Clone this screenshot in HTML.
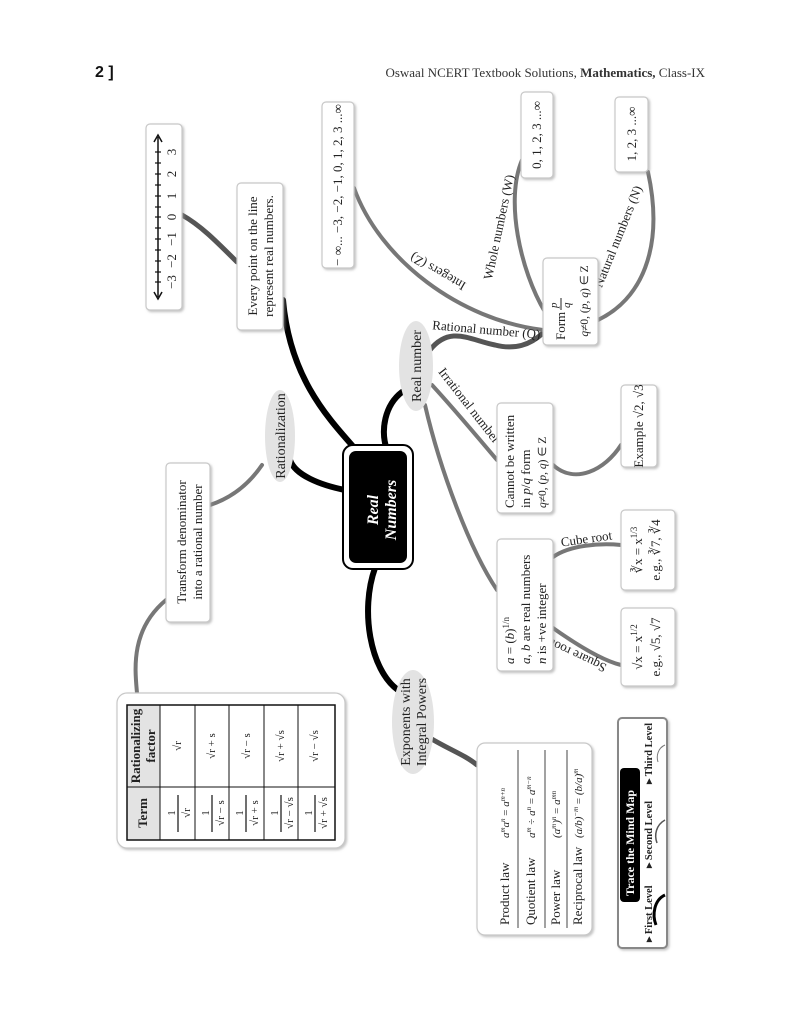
<!DOCTYPE html>
<html><head><meta charset="utf-8"><style>
html,body{margin:0;padding:0;background:#fff;}
svg{display:block;font-size:13px}
text{font-family:"Liberation Serif",serif;fill:#222}
.b{fill:#fff;stroke:#c8c8c8;stroke-width:1.2}
.g{fill:none;stroke:#777;stroke-width:4;stroke-linecap:round}
.d{fill:none;stroke:#555;stroke-width:5;stroke-linecap:round}
.k{fill:none;stroke:#000;stroke-width:6;stroke-linecap:round}
</style></head><body>
<svg width="793" height="1024" viewBox="0 0 793 1024" xmlns="http://www.w3.org/2000/svg">
<defs><filter id="s" x="-10%" y="-10%" width="130%" height="130%"><feDropShadow dx="1.5" dy="1.5" stdDeviation="1.2" flood-color="#999" flood-opacity="0.6"/></filter></defs>

<text x="95" y="77" style="font-family:'Liberation Sans',sans-serif;font-size:16px;font-weight:bold;fill:#111">2 ]</text>
<text x="705" y="77" text-anchor="end" style="font-size:13px;fill:#333">Oswaal NCERT Textbook Solutions, <tspan font-weight="bold">Mathematics,</tspan> Class-IX</text>

<!-- connectors -->
<path class="k" d="M358,452 C330,420 290,380 283,300"/>
<path class="d" d="M237,262 C215,240 200,225 182,215"/>
<path class="k" d="M345,490 C320,485 295,475 290,460"/>
<path class="g" d="M262,465 C245,490 225,500 210,505"/>
<path class="g" d="M166,600 C130,630 135,670 137,693"/>
<path class="k" d="M387,450 C380,430 385,405 402,392"/>
<path class="d" d="M430,350 C450,325 470,340 495,345 C515,350 530,345 543,333"/>
<path class="g" d="M543,330 C460,320 380,260 354,188"/>
<path class="g" d="M545,312 C520,270 505,200 522,160"/>
<path class="g" d="M598,320 C640,300 665,250 648,172"/>
<path class="g" d="M432,385 C455,410 480,440 497,460"/>
<path class="g" d="M553,465 C575,485 605,470 621,445"/>
<path class="g" d="M425,405 C440,470 470,550 497,590"/>
<path class="g" d="M553,557 C570,545 600,543 621,545"/>
<path class="g" d="M553,628 C570,640 600,660 621,665"/>
<path class="k" d="M375,568 C360,610 370,670 398,690"/>
<path class="d" d="M430,738 C450,750 465,755 477,765"/>

<!-- edge labels -->
<text transform="translate(486,334) rotate(5)" text-anchor="middle">Rational number (Q)</text>
<text transform="translate(440,268) rotate(210)" text-anchor="middle">Integers (Z)</text>
<text transform="translate(503,228) rotate(-78)" text-anchor="middle">Whole numbers (W)</text>
<text transform="translate(622,238) rotate(-68)" text-anchor="middle">Natural numbers (N)</text>
<text transform="translate(466,408) rotate(52)" text-anchor="middle">Irrational number</text>
<text transform="translate(587,543) rotate(-8)" text-anchor="middle">Cube root</text>
<text transform="translate(580,652) rotate(205)" text-anchor="middle">Square root</text>

<!-- number line box -->
<rect class="b" filter="url(#s)" x="146" y="124" width="36" height="186" rx="4"/>
<line x1="158" y1="137" x2="158" y2="297" stroke="#111" stroke-width="1.5"/>
<path d="M154,142 L158,135 L162,142 M154,292 L158,299 L162,292" fill="none" stroke="#111" stroke-width="1.5"/>
<g stroke="#111" stroke-width="1.2">
<line x1="155" y1="152" x2="161" y2="152"/><line x1="155" y1="163" x2="161" y2="163"/><line x1="155" y1="174" x2="161" y2="174"/><line x1="155" y1="185" x2="161" y2="185"/><line x1="155" y1="196" x2="161" y2="196"/><line x1="155" y1="207" x2="161" y2="207"/><line x1="155" y1="217" x2="161" y2="217"/><line x1="155" y1="228" x2="161" y2="228"/><line x1="155" y1="239" x2="161" y2="239"/><line x1="155" y1="250" x2="161" y2="250"/><line x1="155" y1="261" x2="161" y2="261"/><line x1="155" y1="272" x2="161" y2="272"/><line x1="155" y1="282" x2="161" y2="282"/></g>
<g text-anchor="middle">
<text transform="translate(176,282) rotate(-90)">−3</text><text transform="translate(176,261) rotate(-90)">−2</text><text transform="translate(176,239) rotate(-90)">−1</text><text transform="translate(176,217) rotate(-90)">0</text><text transform="translate(176,196) rotate(-90)">1</text><text transform="translate(176,174) rotate(-90)">2</text><text transform="translate(176,152) rotate(-90)">3</text>
</g>

<rect class="b" filter="url(#s)" x="237" y="183" width="46" height="147" rx="4"/>
<text transform="translate(257,256) rotate(-90)" text-anchor="middle">Every point on the line</text>
<text transform="translate(273,256) rotate(-90)" text-anchor="middle">represent real numbers.</text>

<rect class="b" filter="url(#s)" x="322" y="102" width="32" height="166" rx="4"/>
<text transform="translate(342,185) rotate(-90)" text-anchor="middle">− ∞... −3, −2, −1, 0, 1, 2, 3 ...∞</text>

<rect class="b" filter="url(#s)" x="521" y="92" width="32" height="86" rx="4"/>
<text transform="translate(541,135) rotate(-90)" text-anchor="middle">0, 1, 2, 3 ...∞</text>
<rect class="b" filter="url(#s)" x="615" y="97" width="33" height="75" rx="4"/>
<text transform="translate(636,134) rotate(-90)" text-anchor="middle">1, 2, 3 ...∞</text>

<rect class="b" filter="url(#s)" x="543" y="258" width="55" height="87" rx="4"/>
<text transform="translate(565,340) rotate(-90)">Form</text>
<text transform="translate(557,308) rotate(-90)" font-style="italic" font-size="11">p</text>
<line x1="561" y1="298" x2="561" y2="310" stroke="#222" stroke-width="1"/>
<text transform="translate(570,308) rotate(-90)" font-style="italic" font-size="11">q</text>
<text transform="translate(588,301) rotate(-90)" text-anchor="middle" font-size="11.5"><tspan font-style="italic">q</tspan>≠0, (<tspan font-style="italic">p</tspan>, <tspan font-style="italic">q</tspan>) ∈ Z</text>

<!-- ellipses -->
<ellipse cx="416" cy="366" rx="17" ry="45" fill="#e3e3e3"/>
<text transform="translate(421,366) rotate(-90)" text-anchor="middle" font-size="14">Real number</text>
<ellipse cx="280" cy="436" rx="15" ry="46" fill="#e3e3e3"/>
<text transform="translate(285,436) rotate(-90)" text-anchor="middle" font-size="14">Rationalization</text>
<ellipse cx="413" cy="722" rx="21" ry="52" fill="#e3e3e3"/>
<text transform="translate(410,722) rotate(-90)" text-anchor="middle" font-size="14">Exponents with</text>
<text transform="translate(426,722) rotate(-90)" text-anchor="middle" font-size="14">Integral Powers</text>

<!-- center -->
<rect x="343" y="445" width="70" height="124" rx="10" fill="#fff" stroke="#000" stroke-width="2"/>
<rect x="349" y="451" width="58" height="112" rx="7" fill="#000"/>
<text transform="translate(378,510) rotate(-90)" text-anchor="middle" style="font-size:16px;font-style:italic;font-weight:bold;fill:#fff">Real</text>
<text transform="translate(396,510) rotate(-90)" text-anchor="middle" style="font-size:16px;font-style:italic;font-weight:bold;fill:#fff">Numbers</text>

<rect class="b" filter="url(#s)" x="166" y="463" width="44" height="159" rx="4"/>
<text transform="translate(186,542) rotate(-90)" text-anchor="middle">Transform denominator</text>
<text transform="translate(202,542) rotate(-90)" text-anchor="middle">into a rational number</text>

<rect class="b" filter="url(#s)" x="497" y="403" width="56" height="110" rx="4"/>
<text transform="translate(514,508) rotate(-90)">Cannot be written</text>
<text transform="translate(530,508) rotate(-90)">in <tspan font-style="italic">p</tspan>/<tspan font-style="italic">q</tspan> form</text>
<text transform="translate(546,508) rotate(-90)" font-size="11.5"><tspan font-style="italic">q</tspan>≠0, (<tspan font-style="italic">p</tspan>, <tspan font-style="italic">q</tspan>) ∈ Z</text>

<rect class="b" filter="url(#s)" x="621" y="385" width="36" height="82" rx="4"/>
<text transform="translate(643,426) rotate(-90)" text-anchor="middle">Example √2, √3</text>

<rect class="b" filter="url(#s)" x="497" y="539" width="56" height="132" rx="4"/>
<text transform="translate(514,664) rotate(-90)"><tspan font-style="italic">a</tspan> = (<tspan font-style="italic">b</tspan>)<tspan font-size="9" dy="-5">1/n</tspan></text>
<text transform="translate(530,664) rotate(-90)"><tspan font-style="italic">a</tspan>, <tspan font-style="italic">b</tspan> are real numbers</text>
<text transform="translate(546,664) rotate(-90)"><tspan font-style="italic">n</tspan> is +ve integer</text>

<rect class="b" filter="url(#s)" x="621" y="510" width="54" height="80" rx="4"/>
<text transform="translate(642,550) rotate(-90)" text-anchor="middle">∛x = x<tspan font-size="9" dy="-5">1/3</tspan></text>
<text transform="translate(660,550) rotate(-90)" text-anchor="middle">e.g., ∛7, ∛4</text>
<rect class="b" filter="url(#s)" x="621" y="608" width="54" height="78" rx="4"/>
<text transform="translate(642,647) rotate(-90)" text-anchor="middle">√x = x<tspan font-size="9" dy="-5">1/2</tspan></text>
<text transform="translate(660,647) rotate(-90)" text-anchor="middle">e.g., √5, √7</text>

<!-- laws -->
<rect class="b" filter="url(#s)" x="477" y="743" width="115" height="192" rx="8"/>
<g stroke="#444" stroke-width="1"><line x1="518" y1="750" x2="518" y2="928"/><line x1="545" y1="750" x2="545" y2="928"/><line x1="567" y1="750" x2="567" y2="928"/></g>
<text transform="translate(509,925) rotate(-90)">Product law</text>
<text transform="translate(509,838) rotate(-90)" font-style="italic" font-size="11">a<tspan font-size="7" dy="-4">m</tspan><tspan dy="4">a</tspan><tspan font-size="7" dy="-4">n</tspan><tspan dy="4" font-style="normal"> = </tspan>a<tspan font-size="7" dy="-4">m+n</tspan></text>
<text transform="translate(535,925) rotate(-90)">Quotient law</text>
<text transform="translate(535,838) rotate(-90)" font-style="italic" font-size="11">a<tspan font-size="7" dy="-4">m</tspan><tspan dy="4" font-style="normal"> ÷ </tspan>a<tspan font-size="7" dy="-4">n</tspan><tspan dy="4" font-style="normal"> = </tspan>a<tspan font-size="7" dy="-4">m−n</tspan></text>
<text transform="translate(560,925) rotate(-90)">Power law</text>
<text transform="translate(560,838) rotate(-90)" font-style="italic" font-size="11">(a<tspan font-size="7" dy="-4">m</tspan><tspan dy="4">)</tspan><tspan font-size="7" dy="-4">n</tspan><tspan dy="4" font-style="normal"> = </tspan>a<tspan font-size="7" dy="-4">mn</tspan></text>
<text transform="translate(582,925) rotate(-90)">Reciprocal law</text>
<text transform="translate(582,838) rotate(-90)" font-style="italic" font-size="11">(a/b)<tspan font-size="7" dy="-4">−m</tspan><tspan dy="4" font-style="normal"> = </tspan>(b/a)<tspan font-size="7" dy="-4">m</tspan></text>

<!-- table -->
<rect class="b" filter="url(#s)" x="117" y="693" width="228" height="155" rx="10"/>
<rect x="127" y="705" width="33" height="135" fill="#e3e3e3"/>
<rect x="127" y="705" width="208" height="135" fill="none" stroke="#111" stroke-width="1.5"/>
<g stroke="#111" stroke-width="1"><line x1="160" y1="705" x2="160" y2="840"/><line x1="195" y1="705" x2="195" y2="840"/><line x1="229" y1="705" x2="229" y2="840"/><line x1="264" y1="705" x2="264" y2="840"/><line x1="298" y1="705" x2="298" y2="840"/><line x1="127" y1="787" x2="335" y2="787"/></g>
<text transform="translate(147,813) rotate(-90)" text-anchor="middle" font-weight="bold" font-size="13">Term</text>
<text transform="translate(140,746) rotate(-90)" text-anchor="middle" font-weight="bold" font-size="13">Rationalizing</text>
<text transform="translate(155,746) rotate(-90)" text-anchor="middle" font-weight="bold" font-size="13">factor</text>
<g font-size="11" text-anchor="middle">
<text transform="translate(181,746) rotate(-90)">√r</text>
<text transform="translate(215,746) rotate(-90)">√r + s</text>
<text transform="translate(250,746) rotate(-90)">√r − s</text>
<text transform="translate(284,746) rotate(-90)">√r + √s</text>
<text transform="translate(318,746) rotate(-90)">√r − √s</text>
</g>
<g stroke="#111" stroke-width="1.2"><line x1="178" y1="795" x2="178" y2="832"/><line x1="212" y1="795" x2="212" y2="832"/><line x1="246" y1="795" x2="246" y2="832"/><line x1="281" y1="795" x2="281" y2="832"/><line x1="315" y1="795" x2="315" y2="832"/></g>
<g font-size="11" text-anchor="middle">
<text transform="translate(175,813) rotate(-90)">1</text><text transform="translate(190,813) rotate(-90)">√r</text>
<text transform="translate(209,813) rotate(-90)">1</text><text transform="translate(224,813) rotate(-90)">√r − s</text>
<text transform="translate(243,813) rotate(-90)">1</text><text transform="translate(258,813) rotate(-90)">√r + s</text>
<text transform="translate(278,813) rotate(-90)">1</text><text transform="translate(293,813) rotate(-90)">√r − √s</text>
<text transform="translate(312,813) rotate(-90)">1</text><text transform="translate(327,813) rotate(-90)">√r + √s</text>
</g>

<!-- trace -->
<rect x="618" y="718" width="49" height="230" rx="4" fill="#fff" stroke="#888" stroke-width="2" filter="url(#s)"/>
<rect x="620" y="768" width="20" height="134" rx="4" fill="#000"/>
<text transform="translate(634,896) rotate(-90)" style="font-size:12px;font-weight:bold;fill:#fff">Trace the  Mind Map</text>
<g font-size="10.5" font-weight="bold">
<text transform="translate(652,942) rotate(-90)">▸ First Level</text>
<text transform="translate(652,868) rotate(-90)">▸ Second Level</text>
<text transform="translate(652,784) rotate(-90)">▸ Third Level</text>
</g>
<path d="M665,895 C654,900 652,915 656,925" fill="none" stroke="#000" stroke-width="3"/>
<path d="M665,820 C656,825 654,835 657,843" fill="none" stroke="#555" stroke-width="1.5"/>
<path d="M665,745 C658,748 656,756 658,762" fill="none" stroke="#777" stroke-width="1"/>
</svg>
</body></html>
